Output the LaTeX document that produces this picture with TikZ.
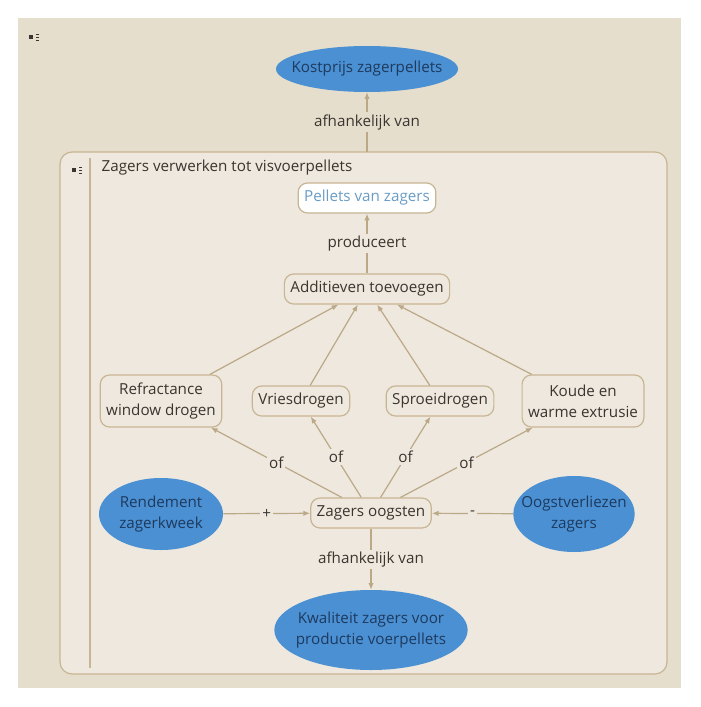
\documentclass[tikz,border=0pt]{standalone}
\usepackage{fontspec}
\setmainfont{Open Sans}
\usetikzlibrary{shapes.geometric,arrows.meta}
\definecolor{achter}{HTML}{E6DECD}
\definecolor{kader}{HTML}{EEE8DE}
\definecolor{rand}{HTML}{C8B594}
\definecolor{pijl}{HTML}{BBA887}
\definecolor{blauw}{HTML}{4A90D2}
\definecolor{donker}{HTML}{1E3A5F}
\definecolor{tekst}{HTML}{3A3530}
\definecolor{lichtblauw}{HTML}{6B9CC4}
\tikzset{
 every node/.style={font=\fontsize{11.4}{15.5}\selectfont,text=tekst},
 stap/.style={draw=rand,fill=kader,line width=0.9pt,rounded corners=7pt,align=center,inner xsep=4.5pt,minimum height=22.5pt},
 doel/.style={ellipse,fill=blauw,text=donker,align=center,inner xsep=-30pt,inner ysep=-15pt},
 pijlen/.style={->,>={Latex[length=5pt,width=4pt]},pijl,line width=0.9pt},
 lbl/.style={fill=kader,inner sep=1.5pt}
}
\begin{document}
\begin{tikzpicture}[x=0.75pt,y=-0.75pt]
 \useasboundingbox (0,0) rectangle (700,707);
 \fill[achter] (18,18) rectangle (681,688); %achtergrond
 \draw[rand,fill=kader,rounded corners=9pt,line width=0.9pt] (60,152) rectangle (667,674); %kader
 \draw[rand,line width=0.9pt] (90,158)--(90,668);
 %menu-icoontjes
 \fill[tekst] (29,35) rectangle (33,39);
 \foreach \y in {33.5,36.5,39.5} \fill[tekst] (36,\y) rectangle (39,\y+1.5);
 \fill[tekst] (72,168) rectangle (76,172);
 \foreach \y in {166.5,169.5,172.5} \fill[tekst] (79,\y) rectangle (82,\y+1.5);
 \node[anchor=west] (titel) at (97,168) {Zagers verwerken tot visvoerpellets};
 %knopen
 \node[doel,minimum width=136.5pt,minimum height=34.5pt] (kost) at (367,69) {Kostprijs zagerpellets};
 \node[stap,fill=white,text=lichtblauw] (pellets) at (367,198) {Pellets van zagers};
 \node[stap] (additief) at (367,289) {Additieven toevoegen};
 \node[stap,minimum height=39pt] (refract) at (161,401) {Refractance\\window drogen};
 \node[stap] (vries) at (301,401) {Vriesdrogen};
 \node[stap] (sproei) at (440,401) {Sproeidrogen};
 \node[stap,minimum height=39pt] (extrusie) at (583,401) {Koude en\\warme extrusie};
 \node[stap] (oogst) at (371,513) {Zagers oogsten};
 \node[doel,minimum width=93pt,minimum height=54pt] (rendement) at (161,514) {Rendement\\zagerkweek};
 \node[doel,minimum width=91pt,minimum height=57pt] (verlies) at (574,514) {Oogstverliezen\\zagers};
 \node[doel,minimum width=145pt,minimum height=60pt] (kwaliteit) at (371,630) {Kwaliteit zagers voor\\productie voerpellets};
 \coordinate (kadertop) at (367,152);
 %verbindingen
 \draw[pijlen] (kadertop)--node[lbl,fill=achter]{afhankelijk van}(kost);
 \draw[pijlen] (additief)--node[lbl]{produceert}(pellets);
 \foreach \m in {refract,vries,sproei,extrusie}{
  \draw[pijlen] (\m)--(additief);
  \draw[pijlen] (oogst)--node[lbl]{of}(\m);
 }
 \draw[pijlen] (rendement)--node[lbl]{+}(oogst);
 \draw[pijlen] (verlies)--node[lbl]{-}(oogst);
 \draw[pijlen] (oogst)--node[lbl]{afhankelijk van}(kwaliteit);
\end{tikzpicture}
\end{document}
